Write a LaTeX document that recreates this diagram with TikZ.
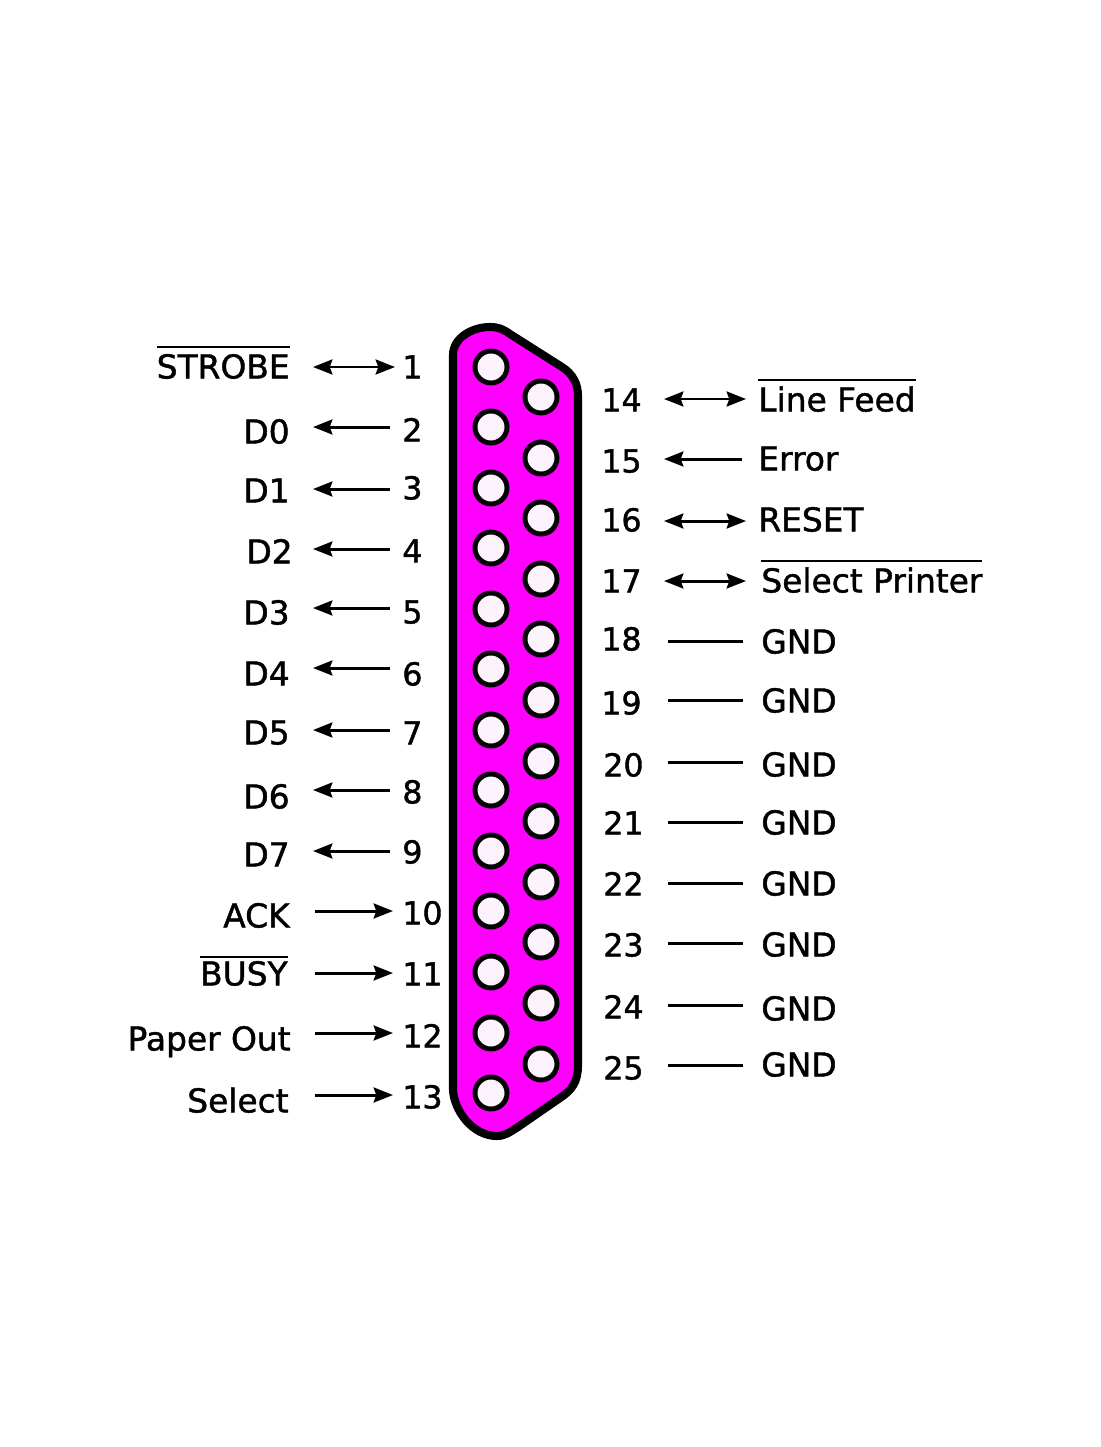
\documentclass[tikz,border=0pt]{standalone}
\usepackage{fontspec}
\setmainfont{DejaVu Sans}
\newfontfamily\thickfont[FakeBold=1.3]{DejaVu Sans}
\usetikzlibrary{arrows.meta}
\definecolor{shell}{RGB}{255,0,255}
\definecolor{hole}{RGB}{253,243,253}
\newcommand{\ovl}[1]{\setbox0\hbox{#1}\hbox{\rlap{\rule[17.3pt]{\wd0}{1.4pt}}\box0}}
\newcommand{\lowovl}[1]{\setbox0\hbox{#1}\hbox{\rlap{\rule[15.6pt]{\wd0}{1.4pt}}\box0}}
\tikzset{
  pin/.style={circle,draw=black,fill=hole,line width=2.8pt,minimum size=0.64cm,inner sep=0pt},
  lab/.style={anchor=base east,inner sep=0pt,yshift=-6.5pt,font=\thickfont\fontsize{18.7}{18.7}\selectfont},
  rlab/.style={lab,anchor=base west},
  num/.style={anchor=base west,inner sep=0pt,yshift=-6.5pt,font=\thickfont\fontsize{18}{18}\selectfont},
  wire/.style={line width=1.7pt}
}
\begin{document}
\begin{tikzpicture}[x=0.02cm,y=-0.02cm,>={Stealth[length=11pt,width=8.5pt,inset=1.5pt]}]
\useasboundingbox (0,0) rectangle (1100,1447);
% shell
\draw[fill=shell,line width=4.6pt] (453,355) .. controls (453,338) and (472,327) .. (490,327)
  .. controls (498,327) and (503,329) .. (510,334) -- (562,367)
  .. controls (573,374) and (578,384) .. (578,396) -- (578,1065)
  .. controls (578,1082) and (572,1090) .. (560,1098) -- (518,1127)
  .. controls (510,1132) and (505,1136) .. (497,1136)
  .. controls (472,1136) and (454,1110) .. (453,1090) -- cycle;
% odd row
\node[pin] (p1) at (491,367) {};
\node[pin] (p2) at (491,427) {};
\node[pin] (p3) at (491,488) {};
\node[pin] (p4) at (491,548) {};
\node[pin] (p5) at (491,609) {};
\node[pin] (p6) at (491,669) {};
\node[pin] (p7) at (491,730) {};
\node[pin] (p8) at (491,790) {};
\node[pin] (p9) at (491,851) {};
\node[pin] (p10) at (491,911) {};
\node[pin] (p11) at (491,972) {};
\node[pin] (p12) at (491,1033) {};
\node[pin] (p13) at (491,1093) {};
% even row
\node[pin] (p14) at (541,397) {};
\node[pin] (p15) at (541,458) {};
\node[pin] (p16) at (541,518) {};
\node[pin] (p17) at (541,579) {};
\node[pin] (p18) at (541,639) {};
\node[pin] (p19) at (541,700) {};
\node[pin] (p20) at (541,761) {};
\node[pin] (p21) at (541,821) {};
\node[pin] (p22) at (541,882) {};
\node[pin] (p23) at (541,942) {};
\node[pin] (p24) at (541,1003) {};
\node[pin] (p25) at (541,1064) {};
% left side
\node[lab] (l1) at (290,367) {\ovl{STROBE}};
\node[num] (n1) at (402,367) {1};
\coordinate (a1) at (313,367); \coordinate (b1) at (395,367);
\draw[wire,arrows=<->] (a1)--(b1);
\node[lab] (l2) at (290,432) {D0};
\node[num] (n2) at (402,430) {2};
\coordinate (a2) at (313,427); \coordinate (b2) at (390,427);
\draw[wire,arrows=<-] (a2)--(b2);
\node[lab] (l3) at (290,491) {D1};
\node[num] (n3) at (402,488) {3};
\coordinate (a3) at (313,489); \coordinate (b3) at (390,489);
\draw[wire,arrows=<-] (a3)--(b3);
\node[lab] (l4) at (293,552) {D2};
\node[num] (n4) at (402,551) {4};
\coordinate (a4) at (313,549); \coordinate (b4) at (390,549);
\draw[wire,arrows=<-] (a4)--(b4);
\node[lab] (l5) at (290,613) {D3};
\node[num] (n5) at (402,612) {5};
\coordinate (a5) at (313,608); \coordinate (b5) at (390,608);
\draw[wire,arrows=<-] (a5)--(b5);
\node[lab] (l6) at (290,674) {D4};
\node[num] (n6) at (402,674) {6};
\coordinate (a6) at (313,668); \coordinate (b6) at (390,668);
\draw[wire,arrows=<-] (a6)--(b6);
\node[lab] (l7) at (290,733) {D5};
\node[num] (n7) at (402,733) {7};
\coordinate (a7) at (313,730); \coordinate (b7) at (390,730);
\draw[wire,arrows=<-] (a7)--(b7);
\node[lab] (l8) at (290,797) {D6};
\node[num] (n8) at (402,792) {8};
\coordinate (a8) at (313,790); \coordinate (b8) at (390,790);
\draw[wire,arrows=<-] (a8)--(b8);
\node[lab] (l9) at (290,855) {D7};
\node[num] (n9) at (402,852) {9};
\coordinate (a9) at (313,851); \coordinate (b9) at (390,851);
\draw[wire,arrows=<-] (a9)--(b9);
\node[lab] (l10) at (290,916) {ACK};
\node[num] (n10) at (402,913) {10};
\coordinate (a10) at (315,911); \coordinate (b10) at (393,911);
\draw[wire,arrows=->] (a10)--(b10);
\node[lab] (l11) at (288,974) {\lowovl{BUSY}};
\node[num] (n11) at (402,974) {11};
\coordinate (a11) at (315,973); \coordinate (b11) at (393,973);
\draw[wire,arrows=->] (a11)--(b11);
\node[lab] (l12) at (291,1039) {Paper Out};
\node[num] (n12) at (402,1036) {12};
\coordinate (a12) at (315,1033); \coordinate (b12) at (393,1033);
\draw[wire,arrows=->] (a12)--(b12);
\node[lab] (l13) at (289,1101) {Select};
\node[num] (n13) at (402,1097) {13};
\coordinate (a13) at (315,1095); \coordinate (b13) at (393,1095);
\draw[wire,arrows=->] (a13)--(b13);
% right side
\node[num] (n14) at (601,400) {14};
\node[rlab] (l14) at (758,400) {\ovl{Line Feed}};
\coordinate (a14) at (664,399); \coordinate (b14) at (746,399);
\draw[wire,arrows=<->] (a14)--(b14);
\node[num] (n15) at (601,461) {15};
\node[rlab] (l15) at (758,459) {Error};
\coordinate (a15) at (664,459); \coordinate (b15) at (742,459);
\draw[wire,arrows=<-] (a15)--(b15);
\node[num] (n16) at (601,520) {16};
\node[rlab] (l16) at (758,520) {RESET};
\coordinate (a16) at (664,521); \coordinate (b16) at (746,521);
\draw[wire,arrows=<->] (a16)--(b16);
\node[num] (n17) at (601,581) {17};
\node[rlab] (l17) at (761,581) {\ovl{Select Printer}};
\coordinate (a17) at (664,581); \coordinate (b17) at (746,581);
\draw[wire,arrows=<->] (a17)--(b17);
\node[num] (n18) at (601,639) {18};
\node[rlab] (l18) at (761,642) {GND};
\coordinate (a18) at (668,641); \coordinate (b18) at (743,641);
\draw[wire] (a18)--(b18);
\node[num] (n19) at (601,703) {19};
\node[rlab] (l19) at (761,701) {GND};
\coordinate (a19) at (668,700); \coordinate (b19) at (743,700);
\draw[wire] (a19)--(b19);
\node[num] (n20) at (603,765) {20};
\node[rlab] (l20) at (761,765) {GND};
\coordinate (a20) at (668,762); \coordinate (b20) at (743,762);
\draw[wire] (a20)--(b20);
\node[num] (n21) at (603,823) {21};
\node[rlab] (l21) at (761,823) {GND};
\coordinate (a21) at (668,822); \coordinate (b21) at (743,822);
\draw[wire] (a21)--(b21);
\node[num] (n22) at (603,884) {22};
\node[rlab] (l22) at (761,884) {GND};
\coordinate (a22) at (668,883); \coordinate (b22) at (743,883);
\draw[wire] (a22)--(b22);
\node[num] (n23) at (603,945) {23};
\node[rlab] (l23) at (761,945) {GND};
\coordinate (a23) at (668,943); \coordinate (b23) at (743,943);
\draw[wire] (a23)--(b23);
\node[num] (n24) at (603,1007) {24};
\node[rlab] (l24) at (761,1009) {GND};
\coordinate (a24) at (668,1005); \coordinate (b24) at (743,1005);
\draw[wire] (a24)--(b24);
\node[num] (n25) at (603,1068) {25};
\node[rlab] (l25) at (761,1065) {GND};
\coordinate (a25) at (668,1065); \coordinate (b25) at (743,1065);
\draw[wire] (a25)--(b25);
\end{tikzpicture}
\end{document}
